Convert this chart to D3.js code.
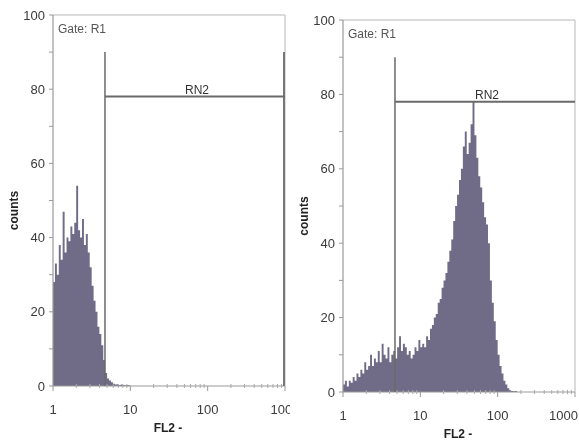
<!DOCTYPE html>
<html>
<head>
<meta charset="utf-8">
<script src="https://cdn.jsdelivr.net/npm/d3@7"></script>
<style>
  body { margin: 0; background: #fff; }
  svg { display: block; }
  text { font-family: 'Liberation Sans', Arial, sans-serif; fill: #3a3a3a; }
</style>
</head>
<body>
<script>
// histogram bins: 40 per decade, starting at channel value 1
const binsPerDecade = 40;

const leftCounts = [
  28, 33, 30, 38, 34, 47, 36, 40, 39, 43,
  41, 44, 54, 42, 40, 45, 38, 41, 36, 32,
  27, 23, 20, 16, 14, 11, 7, 3.5, 2, 1.5,
  1, 0.6, 0.4, 0.5, 0.3, 0.4, 0.3, 0.2, 0.3, 0.2
];

const rightCounts = [
  2, 3, 1.5, 3, 2.5, 4, 3, 5, 4, 6,
  5, 8, 6, 7, 10, 7, 9, 8, 11, 8,
  13, 10, 9, 12, 8, 10, 11, 9, 12, 15,
  11, 13, 12, 10, 11, 9, 10, 12, 11, 14,
  12, 13, 12, 15, 14, 17, 18, 20, 21, 24,
  25, 28, 30, 32, 35, 38, 41, 46, 50, 53,
  57, 60, 66, 70, 64, 67, 72, 78, 69, 63,
  58, 55, 51, 47, 45, 40, 30, 24, 19, 14,
  10, 7, 5, 3, 2, 1, 0.5, 0.3, 0.2, 0.3
];

const yTicks = [0, 20, 40, 60, 80, 100];
const yMinorTicks = [10, 30, 50, 70, 90];
const xTicks = [1, 10, 100, 1000];
const xTickLabels = ['1', '10', '100', '1000'];

const gateLabel = 'RN2';
const gateName = 'Gate: R1';
const gateFrom = 4.7;
const gateTo = 1000;
const gateTop = 90;
const gateLevel = 78;

const panels = [
  { counts: leftCounts, left: 53, top: 15, bottom: 386, clipLeft: 0, clipRight: 290 },
  { counts: rightCounts, left: 343, top: 20, bottom: 392, clipLeft: 292, clipRight: 579 }
];

const width = 579;
const height = 441;
const plotWidth = 232;

const svg = d3.select('body')
  .append('svg')
  .attr('width', width)
  .attr('height', height);

const defs = svg.append('defs');
defs.append('filter')
  .attr('id', 'soft')
  .append('feGaussianBlur')
  .attr('stdDeviation', 0.45);

panels.forEach((p, k) => {
  defs.append('clipPath')
    .attr('id', 'clip' + k)
    .append('rect')
    .attr('x', p.clipLeft).attr('y', 0)
    .attr('width', p.clipRight - p.clipLeft)
    .attr('height', height);

  let g = svg.append('g')
    .attr('clip-path', `url(#clip${k})`)
    .append('g')
    .attr('filter', 'url(#soft)');

  let x = d3.scaleLog().domain([1, 1000]).range([p.left, p.left + plotWidth]);
  let y = d3.scaleLinear().domain([0, 100]).range([p.bottom, p.top]);

  // histogram as a stepped area, one step per bin
  let edge = i => Math.pow(10, i / binsPerDecade);
  let pts = p.counts.map((c, i) => [edge(i), c]);
  pts.push([edge(p.counts.length), p.counts[p.counts.length - 1]]);

  let area = d3.area()
    .curve(d3.curveStepAfter)
    .x(d => x(d[0]))
    .y0(y(0))
    .y1(d => y(d[1]));

  g.append('path')
    .datum(pts)
    .attr('d', area)
    .attr('fill', '#6f6c87');

  // frame: top and right lighter, left and bottom axis lines
  g.append('line')
    .attr('x1', x(1)).attr('x2', x(1000))
    .attr('y1', y(100)).attr('y2', y(100))
    .attr('stroke', '#b8b8b8').attr('stroke-width', 1.2);
  g.append('line')
    .attr('x1', x(1000)).attr('x2', x(1000))
    .attr('y1', y(100)).attr('y2', y(0))
    .attr('stroke', '#c4c4c4').attr('stroke-width', 1.2);
  g.append('line')
    .attr('x1', x(1)).attr('x2', x(1))
    .attr('y1', y(100)).attr('y2', y(0))
    .attr('stroke', '#999').attr('stroke-width', 1.2);
  g.append('line')
    .attr('x1', x(1)).attr('x2', x(1000))
    .attr('y1', y(0)).attr('y2', y(0))
    .attr('stroke', '#999').attr('stroke-width', 1.2);

  // y ticks
  g.append('g')
    .selectAll('line')
    .data(yTicks.concat(yMinorTicks))
    .enter()
    .append('line')
    .attr('x1', x(1) - 4).attr('x2', x(1))
    .attr('y1', d => y(d)).attr('y2', d => y(d))
    .attr('stroke', '#999');

  g.append('g')
    .selectAll('text')
    .data(yTicks)
    .enter()
    .append('text')
    .attr('x', x(1) - 8)
    .attr('y', d => y(d))
    .attr('dy', '0.36em')
    .attr('text-anchor', 'end')
    .style('font-size', '13px')
    .text(d => d);

  // x ticks: majors down, minors small marks along baseline
  let minors = [];
  xTicks.slice(0, -1).forEach(t => {
    for (let m = 2; m < 10; m++) minors.push(t * m);
  });
  g.append('g')
    .selectAll('line')
    .data(minors)
    .enter()
    .append('line')
    .attr('x1', d => x(d)).attr('x2', d => x(d))
    .attr('y1', y(0) - 2).attr('y2', y(0) + 2)
    .attr('stroke', '#aaa');
  g.append('g')
    .selectAll('line')
    .data(xTicks)
    .enter()
    .append('line')
    .attr('x1', d => x(d)).attr('x2', d => x(d))
    .attr('y1', y(0)).attr('y2', y(0) + 5)
    .attr('stroke', '#999');

  // the last label of the right panel is pulled in so it stays inside the page
  g.append('g')
    .selectAll('text')
    .data(xTicks)
    .enter()
    .append('text')
    .attr('x', (d, i) => (k === 1 && i === xTicks.length - 1) ? width - 1 : x(d))
    .attr('y', y(0) + 28)
    .attr('text-anchor', (d, i) => (k === 1 && i === xTicks.length - 1) ? 'end' : 'middle')
    .style('font-size', '13px')
    .text((_, i) => xTickLabels[i]);

  // axis titles
  g.append('text')
    .attr('transform', `translate(${p.left - 35} ${(p.top + p.bottom) / 2 + 10}) rotate(-90)`)
    .attr('text-anchor', 'middle')
    .style('font-size', '12px')
    .style('font-weight', 'bold')
    .style('fill', '#222')
    .text('counts');

  g.append('text')
    .attr('x', x(1) + 115)
    .attr('y', p.bottom + 46)
    .attr('text-anchor', 'middle')
    .style('font-size', '12px')
    .style('font-weight', 'bold')
    .style('fill', '#222')
    .text('FL2 -');

  g.append('text')
    .attr('x', x(1) + 5)
    .attr('y', y(100) + 18)
    .style('font-size', '12px')
    .style('fill', '#555')
    .text(gateName);

  // gate marker
  g.append('line')
    .attr('x1', x(gateFrom)).attr('x2', x(gateFrom))
    .attr('y1', y(gateTop)).attr('y2', y(0))
    .attr('stroke', '#6a6a6a').attr('stroke-width', 1.5);
  if (k === 0) {
    g.append('line')
      .attr('x1', x(gateTo) - 1).attr('x2', x(gateTo) - 1)
      .attr('y1', y(gateTop)).attr('y2', y(0))
      .attr('stroke', '#777').attr('stroke-width', 2);
  }
  g.append('line')
    .attr('x1', x(gateFrom)).attr('x2', x(gateTo))
    .attr('y1', y(gateLevel)).attr('y2', y(gateLevel))
    .attr('stroke', '#6a6a6a').attr('stroke-width', 2);
  g.append('text')
    .attr('x', (x(gateFrom) + x(gateTo)) / 2 + 2)
    .attr('y', y(gateLevel) - 3)
    .attr('text-anchor', 'middle')
    .style('font-size', '12px')
    .style('fill', '#333')
    .text(gateLabel);
});
</script>
</body>
</html>
